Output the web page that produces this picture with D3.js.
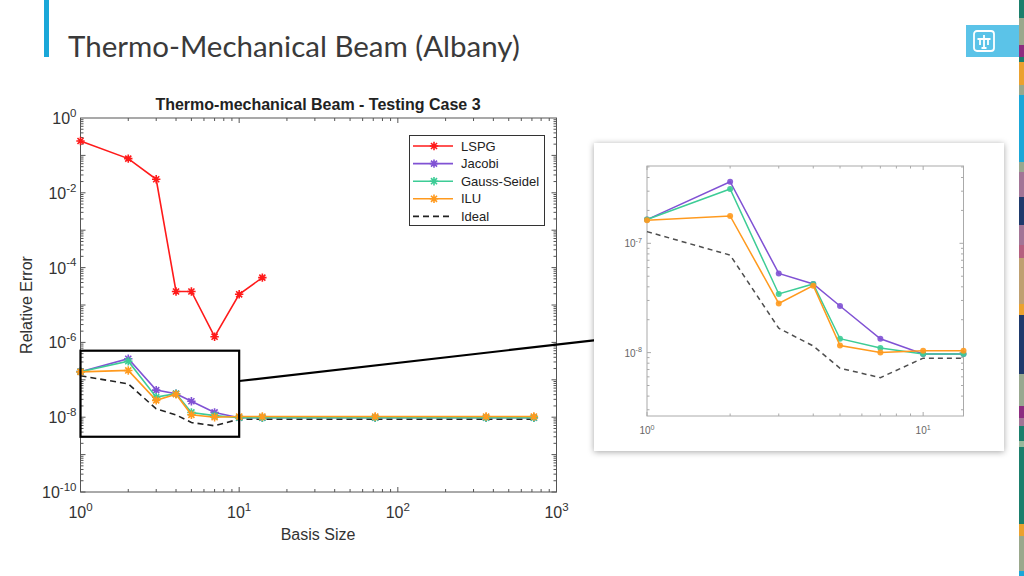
<!DOCTYPE html>
<html><head><meta charset="utf-8">
<script src="https://cdn.jsdelivr.net/npm/d3@7"></script>
<style>html,body{margin:0;padding:0;background:#fff;}svg{display:block;}</style>
</head><body>
<svg id="c" width="1024" height="576"></svg>
<script>
// ---------------- data ----------------
const basisSize = [1, 2, 3, 4, 5, 7, 10, 14, 72, 360, 720];
const lspgBasis = [1, 2, 3, 4, 5, 7, 10, 14];
const lspg = [0.243, 0.082, 0.023, 2.3e-5, 2.3e-5, 1.42e-6, 1.93e-5, 5.4e-5];
const jacobi = [1.65e-7, 3.66e-7, 5.3e-8, 4.25e-8, 2.67e-8, 1.34e-8, 9.7e-9, 9.7e-9, 9.7e-9, 9.7e-9, 9.7e-9];
const gaussSeidel = [1.65e-7, 3.14e-7, 3.44e-8, 4.25e-8, 1.34e-8, 1.1e-8, 9.7e-9, 9.7e-9, 9.7e-9, 9.7e-9, 9.7e-9];
const ilu = [1.63e-7, 1.78e-7, 2.82e-8, 4.1e-8, 1.16e-8, 1.0e-8, 1.04e-8, 1.04e-8, 1.04e-8, 1.04e-8, 1.04e-8];
const ideal = [1.28e-7, 7.8e-8, 1.67e-8, 1.15e-8, 7.2e-9, 5.9e-9, 8.9e-9, 8.9e-9, 8.9e-9, 8.9e-9, 8.9e-9];
const seriesNames = ["LSPG", "Jacobi", "Gauss-Seidel", "ILU", "Ideal"];
const seriesColors = ["#ff1a1a", "#8052d4", "#3dcc96", "#ff9a1e", "#222222"];
const xTickExps = [0, 1, 2, 3];
const yTickExps = [0, -2, -4, -6, -8, -10];
const insetXTickExps = [0, 1];
const insetYTickExps = [-7, -8];
const zoomBoxX = [1, 10];
const zoomBoxY = [3e-9, 6e-7];
const stripColors = [
  [0,18,"#1b7f6c"],[18,45,"#9aa88c"],[45,57,"#8d2d80"],[57,62,"#1b7f6c"],[62,85,"#eba12f"],
  [85,95,"#9aa88c"],[95,162,"#1aa7d8"],[162,172,"#98a890"],[172,197,"#a27596"],[197,225,"#1f3a6c"],
  [225,245,"#a27596"],[245,258,"#b5607f"],[258,304,"#bfa071"],[304,315,"#eba12f"],[315,374,"#1f3a6c"],
  [374,406,"#98a890"],[406,418,"#8d2d80"],[418,426,"#a27596"],[426,441,"#1b7f6c"],[441,447,"#9ab89c"],
  [447,524,"#1b7f6c"],[524,536,"#eba12f"],[536,571,"#9aa88c"],[571,576,"#1aa7d8"]
];

const svg = d3.select("#c");
const FONT = "'Liberation Sans', Arial, sans-serif";

// ---------------- slide decoration ----------------
svg.append("rect").attr("x",44).attr("y",0).attr("width",5).attr("height",57).attr("fill","#1aa7d8");
svg.append("text").attr("x",68).attr("y",57).attr("font-family","Lato, 'Open Sans', sans-serif")
  .attr("font-size",29.5).attr("fill","#3a3a3a").text("Thermo-Mechanical Beam (Albany)");
svg.append("rect").attr("x",966).attr("y",25).attr("width",53).attr("height",32).attr("fill","#5bc3e8");
const logo = svg.append("g").attr("transform","translate(974,31)").attr("fill","none").attr("stroke","#fff").attr("stroke-width",1.8);
logo.append("rect").attr("x",0).attr("y",0).attr("width",20).attr("height",20).attr("rx",3);
logo.append("path").attr("d","M3.5,8 L16.5,8 M10,4 L10,17 M6,8 L6,14 M14,8 L14,14 M7.5,17 L12.5,17");
svg.selectAll("rect.strip").data(stripColors).enter().append("rect")
  .attr("x",1019).attr("width",5).attr("y",d=>d[0]).attr("height",d=>d[1]-d[0]).attr("fill",d=>d[2]);

// ---------------- helpers ----------------
function powLabel(g, exp, x, y, anchor, size, color){
  const t = g.append("text").attr("x",x).attr("y",y).attr("text-anchor",anchor)
    .attr("font-family",FONT).attr("font-size",size).attr("fill",color);
  t.append("tspan").text("10");
  t.append("tspan").attr("dy",-size*0.45).attr("font-size",size*0.72).text(exp);
  return t;
}
function star(s){
  const a = s*0.72;
  return `M${-s},0L${s},0M0,${-s}L0,${s}M${-a},${-a}L${a},${a}M${-a},${a}L${a},${-a}`;
}
function logTicks(g, x, y, xDomExp, yDomExp, L, R, T, B, maj, minr, color){
  for(let e=xDomExp[0]; e<=xDomExp[1]; e++){
    for(let m=1;m<=9;m++){
      const v = m*Math.pow(10,e); const px = x(v);
      if(px < L-0.5 || px > R+0.5) continue;
      const len = m===1?maj:minr;
      g.append("line").attr("x1",px).attr("x2",px).attr("y1",B).attr("y2",B-len).attr("stroke",color);
      g.append("line").attr("x1",px).attr("x2",px).attr("y1",T).attr("y2",T+len).attr("stroke",color);
    }
  }
  for(let e=yDomExp[0]; e<=yDomExp[1]; e++){
    for(let m=1;m<=9;m++){
      const v = m*Math.pow(10,e); const py = y(v);
      if(py < T-0.5 || py > B+0.5) continue;
      const len = m===1?maj:minr;
      g.append("line").attr("y1",py).attr("y2",py).attr("x1",L).attr("x2",L+len).attr("stroke",color);
      g.append("line").attr("y1",py).attr("y2",py).attr("x1",R).attr("x2",R-len).attr("stroke",color);
    }
  }
}

// ---------------- main chart ----------------
const L = 80.5, R = 556.5, T = 118, B = 492;
const x = d3.scaleLog().domain([1,1000]).range([L,R]);
const y = d3.scaleLog().domain([1e-10,1]).range([B,T]);
const main = svg.append("g");
main.append("rect").attr("x",L).attr("y",T).attr("width",R-L).attr("height",B-T).attr("fill","#fff");
logTicks(main, x, y, [0,2], [-10,-1], L, R, T, B, 5, 3, "#555");
main.append("rect").attr("x",L).attr("y",T).attr("width",R-L).attr("height",B-T)
  .attr("fill","none").attr("stroke","#555").attr("stroke-width",1);

xTickExps.forEach(e => powLabel(main, e, x(Math.pow(10,e)), 518, "middle", 16, "#333"));
yTickExps.forEach(e => powLabel(main, e, L-4, y(Math.pow(10,e))+6, "end", 16, "#333"));

main.append("text").attr("x",318).attr("y",110).attr("text-anchor","middle")
  .attr("font-family",FONT).attr("font-weight","bold").attr("font-size",16).attr("fill","#222")
  .text("Thermo-mechanical Beam - Testing Case 3");
main.append("text").attr("x",318).attr("y",540).attr("text-anchor","middle")
  .attr("font-family",FONT).attr("font-size",16).attr("fill","#333").text("Basis Size");
main.append("text").attr("transform",`translate(32,${(T+B)/2}) rotate(-90)`).attr("text-anchor","middle")
  .attr("font-family",FONT).attr("font-size",16).attr("fill","#333").text("Relative Error");

const line = d3.line().x(d=>x(d[0])).y(d=>y(d[1]));
const seriesData = [
  lspgBasis.map((b,i)=>[b,lspg[i]]),
  basisSize.map((b,i)=>[b,jacobi[i]]),
  basisSize.map((b,i)=>[b,gaussSeidel[i]]),
  basisSize.map((b,i)=>[b,ilu[i]]),
  basisSize.map((b,i)=>[b,ideal[i]])
];
const drawOrder = [4,0,1,2,3];
drawOrder.forEach(si=>{
  const d = seriesData[si];
  main.append("path").attr("d",line(d)).attr("fill","none").attr("stroke",seriesColors[si])
    .attr("stroke-width",1.6).attr("stroke-dasharray", si===4?"6,4":null);
  if(si!==4){
    main.selectAll(null).data(d).enter().append("path")
      .attr("transform",p=>`translate(${x(p[0])},${y(p[1])})`).attr("d",star(4.2))
      .attr("stroke",seriesColors[si]).attr("stroke-width",1.6).attr("fill","none");
  }
});

// legend
const lg = main.append("g");
lg.append("rect").attr("x",409.5).attr("y",135.5).attr("width",135).attr("height",90)
  .attr("fill","#fff").attr("stroke","#333").attr("stroke-width",1);
seriesNames.forEach((n,i)=>{
  const ly = 146 + i*17.6;
  lg.append("line").attr("x1",413).attr("x2",453).attr("y1",ly).attr("y2",ly)
    .attr("stroke",seriesColors[i]).attr("stroke-width",1.6).attr("stroke-dasharray", i===4?"6,4":null);
  if(i!==4) lg.append("path").attr("transform",`translate(434,${ly})`).attr("d",star(4.2))
    .attr("stroke",seriesColors[i]).attr("stroke-width",1.6);
  lg.append("text").attr("x",461).attr("y",ly+4.5).attr("font-family",FONT).attr("font-size",13)
    .attr("fill","#222").text(n);
});

// zoom box
main.append("rect").attr("x",x(zoomBoxX[0])).attr("y",y(zoomBoxY[1]))
  .attr("width",x(zoomBoxX[1])-x(zoomBoxX[0])).attr("height",y(zoomBoxY[0])-y(zoomBoxY[1]))
  .attr("fill","none").attr("stroke","#000").attr("stroke-width",2.2);

// ---------------- inset ----------------
const defs = svg.append("defs");
const f = defs.append("filter").attr("id","sh").attr("x","-10%").attr("y","-10%").attr("width","120%").attr("height","120%");
f.append("feDropShadow").attr("dx",0).attr("dy",1).attr("stdDeviation",3).attr("flood-color","#000").attr("flood-opacity",0.35);
const PX0 = 594, PY0 = 143, PX1 = 1004, PY1 = 451;

const iL = 647, iR = 963.5, iT = 166, iB = 416;
const ix = d3.scaleLog().domain([1,14]).range([iL,iR]);
const iy = d3.scaleLog().domain([2.63e-9,5.1e-7]).range([iB,iT]);

svg.append("line").attr("x1",x(zoomBoxX[1])).attr("y1",y(9.3e-8)).attr("x2",PX0+2).attr("y2",iy(1.3e-8))
  .attr("stroke","#000").attr("stroke-width",2.2);

svg.append("rect").attr("x",PX0).attr("y",PY0).attr("width",PX1-PX0).attr("height",PY1-PY0)
  .attr("fill","#fff").attr("filter","url(#sh)");
const ins = svg.append("g");
logTicks(ins, ix, iy, [0,1], [-9,-7], iL, iR, iT, iB, 4, 2.5, "#aaa");
ins.append("rect").attr("x",iL).attr("y",iT).attr("width",iR-iL).attr("height",iB-iT)
  .attr("fill","none").attr("stroke","#aaa").attr("stroke-width",1);
insetXTickExps.forEach(e => powLabel(ins, e, ix(Math.pow(10,e)), 434, "middle", 10, "#666"));
insetYTickExps.forEach(e => powLabel(ins, e, iL-5, iy(Math.pow(10,e))+4, "end", 10, "#666"));

const iline = d3.line().x(d=>ix(d[0])).y(d=>iy(d[1]));
[4,1,2,3].forEach(si=>{
  const d = seriesData[si].filter(p=>p[0]<=14);
  ins.append("path").attr("d",iline(d)).attr("fill","none").attr("stroke",seriesColors[si])
    .attr("stroke-opacity", si===4?0.8:1)
    .attr("stroke-width",1.5).attr("stroke-dasharray", si===4?"5,4":null);
  if(si!==4){
    ins.selectAll(null).data(d).enter().append("circle")
      .attr("cx",p=>ix(p[0])).attr("cy",p=>iy(p[1])).attr("r",3).attr("fill",seriesColors[si]).attr("opacity",0.9);
  }
});
</script>
</body></html>
